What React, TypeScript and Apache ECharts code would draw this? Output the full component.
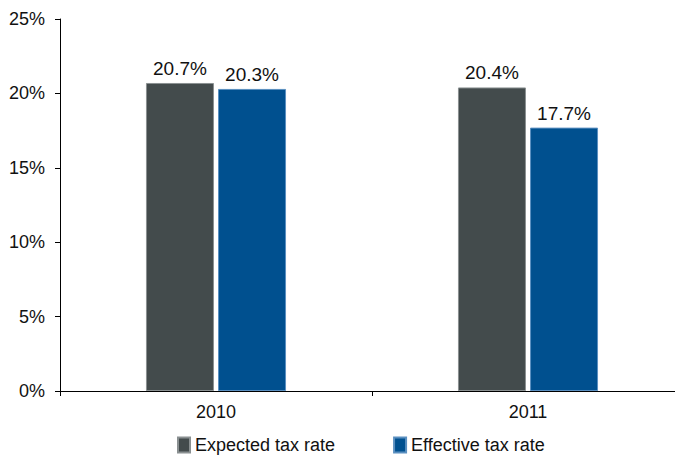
import React, { useEffect, useRef } from "react";
import * as echarts from "echarts";

const categories = ["2010", "2011"];
const expected = [20.7, 20.4];
const effective = [20.3, 17.7];
const seriesNames = ["Expected tax rate", "Effective tax rate"];
const yTicks = [0, 5, 10, 15, 20, 25];

export default function App() {
  const ref = useRef<HTMLDivElement>(null);
  useEffect(() => {
    const chart = echarts.init(ref.current!, null, { renderer: "svg" });
    const font = "'Liberation Sans', Arial, sans-serif";
    const label = {
      show: true,
      position: "top",
      distance: 5,
      formatter: (p: any) => p.value.toFixed(1) + "%",
      color: "#111",
      fontSize: 19,
      fontFamily: font,
    };
    chart.setOption({
      animation: false,
      textStyle: { fontFamily: font },
      grid: { left: 60, right: 6, top: 19, bottom: 67, containLabel: false },
      legend: {
        left: 172,
        top: 431,
        itemWidth: 12,
        itemHeight: 15,
        itemGap: 58,
        icon: "rect",
        textStyle: { fontSize: 18, color: "#111", fontFamily: font },
        data: seriesNames,
      },
      xAxis: {
        type: "category",
        data: categories,
        axisLine: { lineStyle: { color: "#000", width: 1 } },
        axisTick: { show: true, length: 5, inside: false, lineStyle: { color: "#000" } },
        axisLabel: { color: "#111", fontSize: 18, margin: 12, fontFamily: font },
      },
      yAxis: {
        type: "value",
        min: yTicks[0],
        max: yTicks[yTicks.length - 1],
        interval: 5,
        splitLine: { show: false },
        axisLine: { show: true, lineStyle: { color: "#000", width: 1 } },
        axisTick: { show: true, length: 5, lineStyle: { color: "#000" } },
        axisLabel: { color: "#111", fontSize: 18, margin: 15, fontFamily: font, formatter: "{value}%" },
      },
      series: [
        {
          name: seriesNames[0],
          type: "bar",
          data: expected,
          barWidth: 68,
          barGap: "6%",
          itemStyle: { color: "#434b4c", borderColor: "#8a9091", borderWidth: 1 },
          label,
        },
        {
          name: seriesNames[1],
          type: "bar",
          data: effective,
          barWidth: 68,
          itemStyle: { color: "#00508f", borderColor: "#5a8fc0", borderWidth: 1 },
          label,
        },
      ],
    });
    return () => chart.dispose();
  }, []);
  return (
    <div style={{ width: 675, height: 458, position: "absolute", left: 0, top: 0, overflow: "hidden" }}>
      <div ref={ref} style={{ width: 690, height: 458 }} />
    </div>
  );
}
